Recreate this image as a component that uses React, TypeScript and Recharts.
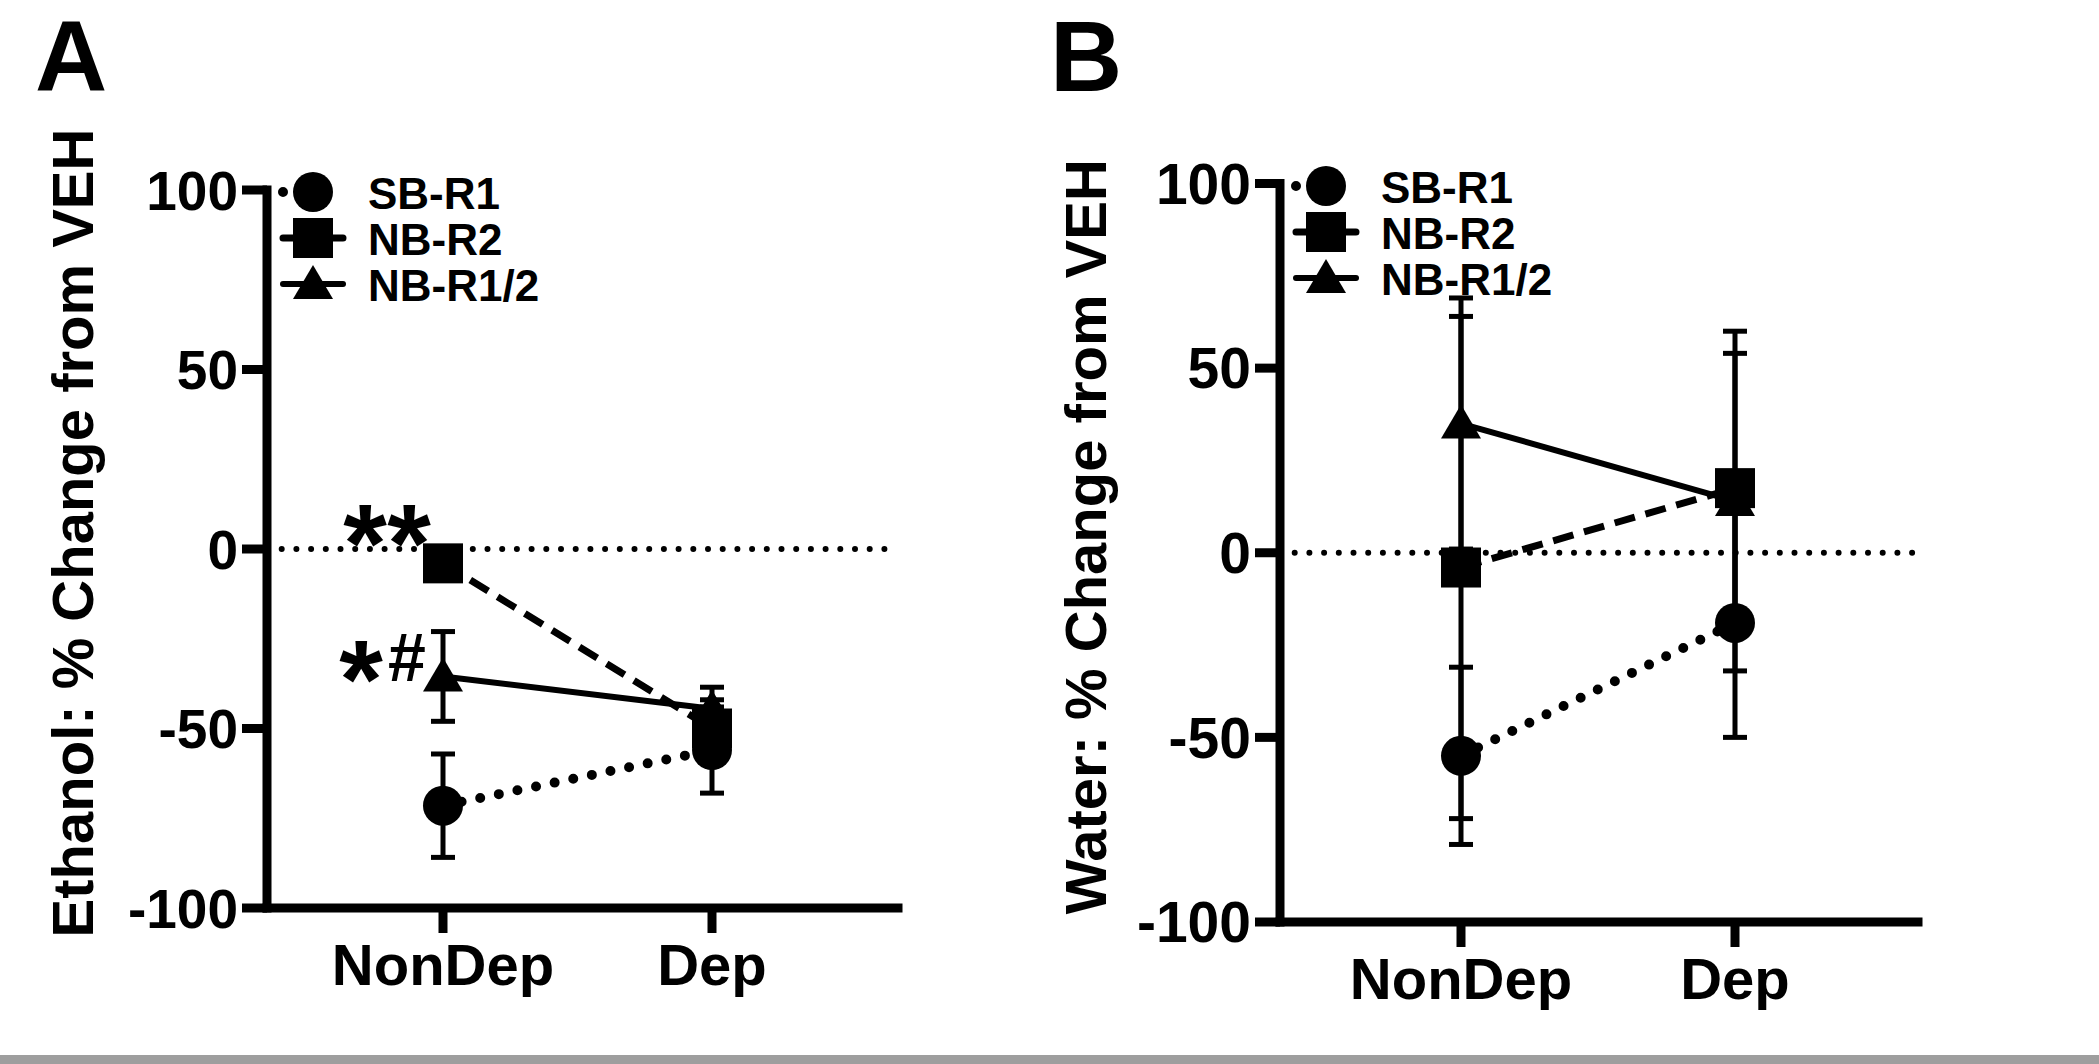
import React from 'react';
import { LineChart, Line, XAxis, YAxis, ErrorBar, ReferenceLine, Legend } from 'recharts';

// ---------- data ----------
const categories = ['NonDep', 'Dep'];
const yTicks = [-100, -50, 0, 50, 100];

// Panel A – Ethanol: % change from VEH
const ethanolSB = [-71.5, -56];
const ethanolSBErr = [14.4, 12];
const ethanolNB2 = [-4, -50];
const ethanolNB2Err = [3, 8];
const ethanolNB12 = [-35.5, -44.5];
const ethanolNB12Err = [12.5, 6];

// Panel B – Water: % change from VEH
const waterSB = [-55, -19];
const waterSBErr = [24, 31];
const waterNB2 = [-4, 17.5];
const waterNB2Err = [68, 36.5];
const waterNB12 = [35, 14];
const waterNB12Err = [34, 46];

// significance marks (panel A, NonDep)
const ethanolMarksNB2 = ['**', ''];
const ethanolMarksNB12 = ['*#', ''];

// ---------- style ----------
const FONT = '"Liberation Sans", Arial, Helvetica, sans-serif';

type Shape = 'circle' | 'square' | 'triangle';

const buildRows = (
  sb: number[], sbErr: number[], nb2: number[], nb2Err: number[], nb12: number[], nb12Err: number[],
  marksNB2: string[] = [], marksNB12: string[] = []
) =>
  categories.map((cat, i) => ({
    cat,
    sb: sb[i], sbErr: sbErr[i],
    nb2: nb2[i], nb2Err: nb2Err[i],
    nb12: nb12[i], nb12Err: nb12Err[i],
    nb2Mark: marksNB2[i] || '',
    nb12Mark: marksNB12[i] || '',
  }));

const ethanolRows = buildRows(ethanolSB, ethanolSBErr, ethanolNB2, ethanolNB2Err, ethanolNB12, ethanolNB12Err, ethanolMarksNB2, ethanolMarksNB12);
const waterRows = buildRows(waterSB, waterSBErr, waterNB2, waterNB2Err, waterNB12, waterNB12Err);

const SERIES: { key: string; name: string; shape: Shape; width: number; dash?: string; cap: 'round' | 'butt'; markKey?: string }[] = [
  { key: 'sb', name: 'SB-R1', shape: 'circle', width: 10, dash: '0 19', cap: 'round' },
  { key: 'nb12', name: 'NB-R1/2', shape: 'triangle', width: 6, cap: 'butt', markKey: 'nb12Mark' },
  { key: 'nb2', name: 'NB-R2', shape: 'square', width: 7, dash: '21 11', cap: 'butt', markKey: 'nb2Mark' },
];
const LEGEND_ORDER = ['sb', 'nb2', 'nb12'];

const markerEl = (shape: Shape, cx: number, cy: number, key?: string) => {
  if (shape === 'circle') return <circle key={key} cx={cx} cy={cy} r={20} fill="#000" />;
  if (shape === 'square') return <rect key={key} x={cx - 20} y={cy - 20} width={40} height={40} fill="#000" />;
  return <polygon key={key} points={`${cx},${cy - 19} ${cx + 20},${cy + 15} ${cx - 20},${cy + 15}`} fill="#000" />;
};

// glyph metrics for significance marks
const GLYPH: Record<string, { adv: number; size: number; base: number }> = {
  '*': { adv: 44, size: 112, base: 62 },
  '#': { adv: 48, size: 68, base: 25 },
};
const MARK_DY: Record<string, number> = { '**': -43, '*#': -20 };

const renderMark = (text: string, cx: number, cy: number) => {
  if (!text) return null;
  const glyphs = text.split('');
  const els: React.ReactNode[] = [];
  let right = cx - 12;
  const cyMark = cy + (MARK_DY[text] ?? -30);
  for (let i = glyphs.length - 1; i >= 0; i--) {
    const g = GLYPH[glyphs[i]] || { adv: 40, size: 60, base: 22 };
    const gx = right - g.adv / 2;
    els.push(
      <text key={i} x={gx} y={cyMark + g.base} textAnchor="middle" fontFamily={FONT} fontWeight="bold" fontSize={g.size} fill="#000">
        {glyphs[i]}
      </text>
    );
    right -= g.adv;
  }
  return els;
};

const makeDot = (shape: Shape, markKey?: string) => (props: any) => {
  const { cx, cy, index, payload } = props;
  if (cx == null || cy == null) return <g key={`d-${index}`} />;
  const mark = markKey && payload ? payload[markKey] : '';
  return (
    <g key={`d-${index}`}>
      {markerEl(shape, cx, cy)}
      {renderMark(mark, cx, cy)}
    </g>
  );
};

const LegendContent = () => (
  <svg width={330} height={150} style={{ overflow: 'visible', display: 'block' }}>
    {LEGEND_ORDER.map((k, i) => {
      const s = SERIES.find((x) => x.key === k)!;
      const cy = 25 + i * 46;
      const cx = 40;
      let line: React.ReactNode;
      if (s.shape === 'circle') {
        line = <line x1={cx - 30} y1={cy} x2={cx} y2={cy} stroke="#000" strokeWidth={10} strokeDasharray="0 19" strokeLinecap="round" />;
      } else if (s.shape === 'square') {
        line = <line x1={cx - 30} y1={cy} x2={cx + 30} y2={cy} stroke="#000" strokeWidth={7} strokeDasharray="14 32 14" strokeLinecap="round" />;
      } else {
        line = <line x1={cx - 30} y1={cy} x2={cx + 30} y2={cy} stroke="#000" strokeWidth={6} strokeLinecap="round" />;
      }
      return (
        <g key={k}>
          {line}
          {markerEl(s.shape, cx, cy)}
          <text x={95} y={cy + 17} fontFamily={FONT} fontWeight="bold" fontSize={44} fill="#000">
            {s.name}
          </text>
        </g>
      );
    })}
  </svg>
);

type PanelProps = {
  rows: any[];
  left: number;
  width: number;
  height: number;
  margin: { top: number; right: number; bottom: number; left: number };
  padding: { left: number; right: number };
  yLabel: string;
  yTickFont: number;
};

const Y_AXIS_W = 120;
const X_AXIS_H = 80;

function Panel({ rows, left, width, height, margin, padding, yLabel, yTickFont }: PanelProps) {
  const plotLeft = margin.left + Y_AXIS_W;
  const plotTop = margin.top;
  const plotBottom = height - margin.bottom - X_AXIS_H;
  const plotMid = (plotTop + plotBottom) / 2;
  return (
    <div style={{ position: 'absolute', left, top: 0 }}>
      <LineChart width={width} height={height} data={rows} margin={margin}>
        <XAxis
          dataKey="cat"
          type="category"
          padding={padding}
          height={X_AXIS_H}
          interval={0}
          tickSize={25}
          tickMargin={11}
          axisLine={{ stroke: '#000', strokeWidth: 9, strokeLinecap: 'square' } as any}
          tickLine={{ stroke: '#000', strokeWidth: 9 }}
          tick={{ fill: '#000', fontSize: 58, fontWeight: 'bold', fontFamily: FONT }}
        />
        <YAxis
          type="number"
          domain={[-100, 100]}
          ticks={yTicks}
          interval={0}
          width={Y_AXIS_W}
          tickSize={25}
          tickMargin={4}
          axisLine={{ stroke: '#000', strokeWidth: 9, strokeLinecap: 'square' } as any}
          tickLine={{ stroke: '#000', strokeWidth: 9 }}
          tick={{ fill: '#000', fontSize: yTickFont, fontWeight: 'bold', fontFamily: FONT }}
          label={{
            value: yLabel,
            content: () => (
              <text
                x={plotLeft - 174}
                y={plotMid - 16}
                transform={`rotate(-90, ${plotLeft - 174}, ${plotMid - 16})`}
                textAnchor="middle"
                fontFamily={FONT}
                fontWeight="bold"
                fontSize={58}
                fill="#000"
              >
                {yLabel}
              </text>
            ),
          }}
        />
        <ReferenceLine y={0} stroke="#000" strokeWidth={6} strokeDasharray="0 14.7" strokeLinecap="round" />
        {SERIES.map((s) => (
          <Line
            key={s.key}
            dataKey={s.key}
            name={s.name}
            stroke="#000"
            strokeWidth={s.width}
            strokeDasharray={s.dash}
            strokeLinecap={s.cap}
            dot={makeDot(s.shape, s.markKey)}
            activeDot={false}
            isAnimationActive={false}
            legendType="none"
          >
            <ErrorBar dataKey={`${s.key}Err`} width={12} strokeWidth={5} stroke="#000" direction="y" />
          </Line>
        ))}
        <Legend
          layout="horizontal"
          verticalAlign="middle"
          align="center"
          content={() => <LegendContent />}
          wrapperStyle={{ left: plotLeft + 46 - 40, top: plotTop + 2 - 25, width: 330, height: 150 }}
        />
      </LineChart>
    </div>
  );
}

export default function App() {
  return (
    <div style={{ position: 'absolute', left: 0, top: 0, width: 2099, height: 1064, background: '#fff', overflow: 'hidden' }}>
      <Panel
        rows={ethanolRows}
        left={0}
        width={1000}
        height={1000}
        margin={{ top: 190, right: 102, bottom: 12, left: 147 }}
        padding={{ left: 176, right: 186 }}
        yLabel="Ethanol: % Change from VEH"
        yTickFont={55}
      />
      <Panel
        rows={waterRows}
        left={1040}
        width={1000}
        height={1010}
        margin={{ top: 183.5, right: 122, bottom: 8, left: 120 }}
        padding={{ left: 181, right: 183 }}
        yLabel="Water: % Change from VEH"
        yTickFont={57}
      />
      <svg style={{ position: 'absolute', left: 0, top: 0, overflow: 'visible' }} width={2099} height={120}>
        <text x={35} y={91} fontFamily={FONT} fontWeight="bold" fontSize={100} fill="#000">A</text>
        <text x={1050} y={91} fontFamily={FONT} fontWeight="bold" fontSize={100} fill="#000">B</text>
      </svg>
      <div style={{ position: 'absolute', left: 0, top: 1055, width: 2099, height: 9, background: '#9e9e9e' }} />
    </div>
  );
}
